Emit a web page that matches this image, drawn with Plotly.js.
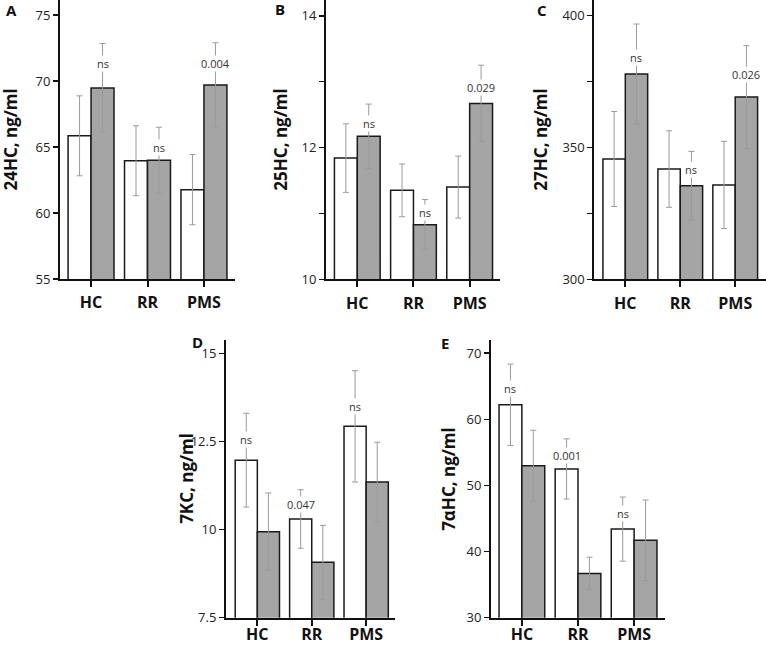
<!DOCTYPE html>
<html>
<head>
<meta charset="utf-8">
<script src="https://cdn.plot.ly/plotly-3.0.1.min.js"></script>
<style>html,body{margin:0;padding:0;background:#fff;}#chart{width:766px;height:645px;}</style>
</head>
<body>
<div id="chart"></div>
<script>
// ---------- data ----------
var categories = ['HC', 'RR', 'PMS'];

var a_white = [65.85, 63.96, 61.77];
var a_whiteErr = [3.03, 2.65, 2.66];
var a_grey = [69.47, 64.0, 69.7];
var a_greyErr = [3.37, 2.5, 3.2];
var a_labels = ['ns', 'ns', '0.004'];
var a_labelY = [71.3, 65.0, 71.3];

var b_white = [11.84, 11.35, 11.40];
var b_whiteErr = [0.52, 0.40, 0.47];
var b_grey = [12.17, 10.83, 12.67];
var b_greyErr = [0.49, 0.38, 0.58];
var b_labels = ['ns', 'ns', '0.029'];
var b_labelY = [12.36, 11.01, 12.91];

var c_white = [345.6, 341.8, 335.8];
var c_whiteErr = [18, 14.5, 16.5];
var c_grey = [377.8, 335.5, 369.1];
var c_greyErr = [19, 13, 19.5];
var c_labels = ['ns', 'ns', '0.026'];
var c_labelY = [384, 341.7, 377.8];

var d_white = [11.97, 10.3, 12.93];
var d_whiteErr = [1.33, 0.83, 1.58];
var d_grey = [9.94, 9.07, 11.35];
var d_greyErr = [1.1, 1.05, 1.13];
var d_labels = ['ns', '0.047', 'ns'];
var d_labelY = [12.57, 10.7, 13.5];

var e_white = [62.2, 52.5, 43.4];
var e_whiteErr = [6.15, 4.55, 4.85];
var e_grey = [53.0, 36.7, 41.7];
var e_greyErr = [5.35, 2.45, 6.1];
var e_labels = ['ns', '0.001', 'ns'];
var e_labelY = [64.7, 54.5, 45.8];

var yTitles = ['24HC, ng/ml', '25HC, ng/ml', '27HC, ng/ml', '7KC, ng/ml', '7\u03b1HC, ng/ml'];
var panelLetters = ['A', 'B', 'C', 'D', 'E'];

var aTicks = [55, 60, 65, 70, 75], aTickText = ['55', '60', '65', '70', '75'];
var bTicks = [10, 11, 12, 13, 14], bTickText = ['10', '', '12', '', '14'];
var cTicks = [300, 325, 350, 375, 400], cTickText = ['300', '', '350', '', '400'];
var dTicks = [7.5, 10, 12.5, 15], dTickText = ['7.5', '10', '12.5', '15'];
var eTicks = [30, 40, 50, 60, 70], eTickText = ['30', '40', '50', '60', '70'];

// ---------- layout geometry (pixels) ----------
var W = 766, H = 645;
var FONT = '"Open Sans", "Noto Sans", sans-serif';
var panels = [
  {white: a_white, wErr: a_whiteErr, grey: a_grey, gErr: a_greyErr, labels: a_labels, labelY: a_labelY, labelOn: 'grey',
   px: [60, 235], py: [0, 279], yr: [55, 76.14], tv: aTicks, tt: aTickText, xr: [-0.55, 2.55], titleX: 10, letter: [11, 10], standoff: 2},
  {white: b_white, wErr: b_whiteErr, grey: b_grey, gErr: b_greyErr, labels: b_labels, labelY: b_labelY, labelOn: 'grey',
   px: [326, 500], py: [0, 279.3], yr: [10, 14.24], tv: bTicks, tt: bTickText, xr: [-0.557, 2.54], titleX: 281, letter: [280, 9], standoff: 2},
  {white: c_white, wErr: c_whiteErr, grey: c_grey, gErr: c_greyErr, labels: c_labels, labelY: c_labelY, labelOn: 'grey',
   px: [594.3, 766], py: [0, 279.3], yr: [300, 405.9], tv: cTicks, tt: cTickText, xr: [-0.564, 2.56], titleX: 541, letter: [542, 10], standoff: 2},
  {white: d_white, wErr: d_whiteErr, grey: d_grey, gErr: d_greyErr, labels: d_labels, labelY: d_labelY, labelOn: 'white',
   px: [226, 395], py: [340, 617.7], yr: [7.5, 15.38], tv: dTicks, tt: dTickText, xr: [-0.576, 2.53], titleX: 187, letter: [197, 342], standoff: -5},
  {white: e_white, wErr: e_whiteErr, grey: e_grey, gErr: e_greyErr, labels: e_labels, labelY: e_labelY, labelOn: 'white',
   px: [491, 665], py: [340, 617.7], yr: [30, 72.0], tv: eTicks, tt: eTickText, xr: [-0.55, 2.55], titleX: 449, letter: [445, 343], standoff: -5}
];

var BARGAP = 0.186;
var half = (1 - BARGAP) / 4;

var traces = [];
var layout = {
  width: W, height: H,
  margin: {l: 0, r: 0, t: 0, b: 0},
  paper_bgcolor: '#fff', plot_bgcolor: 'rgba(0,0,0,0)',
  showlegend: false,
  barmode: 'group', bargap: BARGAP, bargroupgap: 0,
  font: {family: FONT, color: '#222'},
  annotations: []
};

panels.forEach(function (p, i) {
  var n = i === 0 ? '' : String(i + 1);
  var xa = 'x' + n, ya = 'y' + n;
  var errStyle = {type: 'data', visible: true, color: '#9a9a9a', thickness: 1, width: 3};
  traces.push({
    type: 'bar', x: categories, y: p.white, xaxis: xa, yaxis: ya,
    marker: {color: '#ffffff', line: {color: '#1a1a1a', width: 1.5}},
    error_y: Object.assign({array: p.wErr}, errStyle),
    hoverinfo: 'skip'
  });
  traces.push({
    type: 'bar', x: categories, y: p.grey, xaxis: xa, yaxis: ya,
    marker: {color: '#a5a5a5', line: {color: '#1a1a1a', width: 1.5}},
    error_y: Object.assign({array: p.gErr}, errStyle),
    hoverinfo: 'skip'
  });
  layout['xaxis' + n] = {
    type: 'category', anchor: ya, domain: [p.px[0] / W, p.px[1] / W], range: p.xr,
    showline: true, linecolor: '#111', linewidth: 2, mirror: false,
    ticks: 'outside', ticklen: 6, tickwidth: 2, tickcolor: '#111',
    tickfont: {family: FONT, size: 16, color: '#111', weight: 'bold'},
    ticklabelstandoff: p.standoff,
    showgrid: false, zeroline: false, fixedrange: true
  };
  layout['yaxis' + n] = {
    anchor: xa, domain: [(H - p.py[1]) / H, (H - p.py[0]) / H], range: p.yr,
    showline: true, linecolor: '#111', linewidth: 2,
    ticks: 'outside', ticklen: 5, tickwidth: 1.5, tickcolor: '#111',
    tickvals: p.tv, ticktext: p.tt,
    tickfont: {family: FONT, size: 13, color: '#222'},
    showgrid: false, zeroline: false, fixedrange: true
  };
  // significance labels
  p.labels.forEach(function (t, k) {
    layout.annotations.push({
      xref: xa, yref: ya, x: k + (p.labelOn === 'grey' ? half : -half), y: p.labelY[k],
      text: t, showarrow: false, bgcolor: '#ffffff', borderpad: 0,
      font: {family: FONT, size: 11, color: '#333'}
    });
  });
  // y-axis title
  layout.annotations.push({
    xref: 'paper', yref: 'paper', x: p.titleX / W, y: 1 - ((p.py[0] + p.py[1]) / 2) / H,
    xanchor: 'center', yanchor: 'middle', textangle: -90, showarrow: false,
    text: yTitles[i], font: {family: FONT, size: 17, color: '#111', weight: 'bold'}
  });
  // panel letter
  layout.annotations.push({
    xref: 'paper', yref: 'paper', x: p.letter[0] / W, y: 1 - p.letter[1] / H,
    xanchor: 'center', yanchor: 'middle', showarrow: false,
    text: panelLetters[i], font: {family: FONT, size: 15, color: '#111', weight: 'bold'}
  });
});

Plotly.newPlot('chart', traces, layout, {displayModeBar: false, staticPlot: true});
</script>
</body>
</html>
